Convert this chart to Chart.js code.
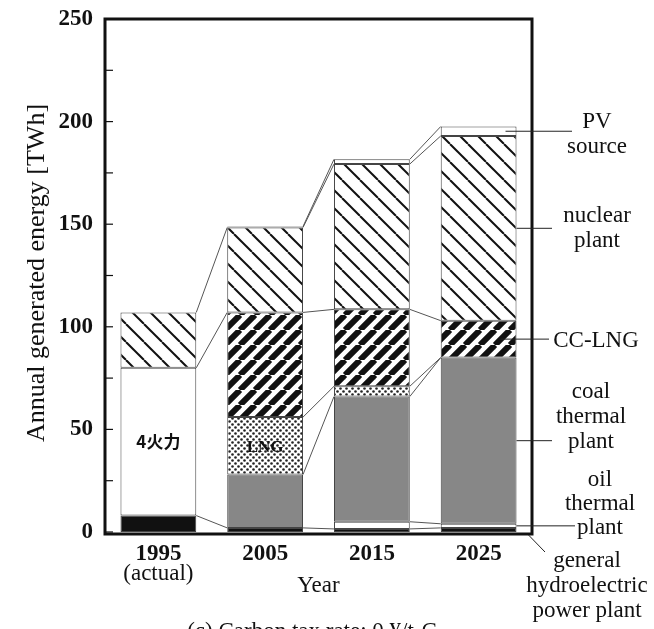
<!DOCTYPE html>
<html>
<head>
<meta charset="utf-8">
<script src="https://cdn.jsdelivr.net/npm/chart.js@4.4.1/dist/chart.umd.min.js"></script>
<style>
  html, body { margin: 0; padding: 0; background: #fff; }
</style>
</head>
<body>
<canvas id="chart" width="654" height="629"></canvas>
<script>
// data (TWh)
const years = ['1995', '2005', '2015', '2025'];
const hydro = [8, 2, 1.5, 2];
const oilThermal = [0, 0, 3.5, 2];
const coalThermal = [0, 26, 61, 81];
const lng = [0, 28, 5, 0];
const ccLng = [0, 51, 37.5, 18];
const thermal4 = [72, 0, 0, 0];
const nuclear = [27, 41.4, 70.8, 90];
const pvSource = [0, 0.5, 2.3, 4.6];
const yTicks = [0, 50, 100, 150, 200, 250];

const serif = '"Liberation Serif", "Times New Roman", serif';

// fill patterns
function hatch(size, dir, width, bg) {
  const c = document.createElement('canvas');
  c.width = size; c.height = size;
  const g = c.getContext('2d');
  g.fillStyle = bg; g.fillRect(0, 0, size, size);
  g.strokeStyle = '#111'; g.lineWidth = width;
  for (let k = -1; k <= 1; k++) {
    g.beginPath();
    if (dir === '\\') { g.moveTo(k * size, 0); g.lineTo(k * size + size, size); }
    else { g.moveTo(k * size, size); g.lineTo(k * size + size, 0); }
    g.stroke();
  }
  return g.createPattern(c, 'repeat');
}
function dots() {
  const c = document.createElement('canvas');
  c.width = 6; c.height = 6;
  const g = c.getContext('2d');
  g.fillStyle = '#fff'; g.fillRect(0, 0, 6, 6);
  g.fillStyle = '#222';
  g.beginPath(); g.arc(1.5, 1.5, 1.3, 0, Math.PI * 2); g.fill();
  g.beginPath(); g.arc(4.5, 4.5, 1.3, 0, Math.PI * 2); g.fill();
  return g.createPattern(c, 'repeat');
}

const ctx = document.getElementById('chart').getContext('2d');

const barStyle = {
  borderColor: '#444',
  borderWidth: 1,
  borderSkipped: false,
  barPercentage: 0.71,
  categoryPercentage: 1.0
};

const datasets = [
  { label: 'general hydroelectric power plant', data: hydro, backgroundColor: '#111' },
  { label: 'oil thermal plant', data: oilThermal, backgroundColor: '#fff' },
  { label: 'coal thermal plant', data: coalThermal, backgroundColor: '#878787' },
  { label: 'LNG', data: lng, backgroundColor: dots() },
  { label: 'CC-LNG', data: ccLng, backgroundColor: hatch(15, '/', 6, '#fff') },
  { label: '4火力', data: thermal4, backgroundColor: '#fff' },
  { label: 'nuclear plant', data: nuclear, backgroundColor: hatch(18, '\\', 2, '#fff') },
  { label: 'PV source', data: pvSource, backgroundColor: '#fff' }
].map(d => Object.assign({}, barStyle, d));

// connecting lines, frame, inner ticks
const framePlugin = {
  id: 'frame',
  afterDatasetsDraw(chart) {
    const { ctx, chartArea: a, scales: { y } } = chart;
    ctx.save();
    ctx.strokeStyle = '#555';
    ctx.lineWidth = 1;
    chart.data.datasets.forEach((ds, d) => {
      const bars = chart.getDatasetMeta(d).data;
      for (let i = 0; i < bars.length - 1; i++) {
        if (!(ds.data[i] > 0)) continue;
        const p = bars[i], q = bars[i + 1];
        ctx.beginPath();
        ctx.moveTo(p.x + p.width / 2, p.y);
        ctx.lineTo(q.x - q.width / 2, q.y);
        ctx.stroke();
      }
    });

    ctx.strokeStyle = '#111';
    ctx.lineWidth = 1.2;
    for (let v = 0; v <= 250; v += 25) {
      const yy = y.getPixelForValue(v);
      ctx.beginPath();
      ctx.moveTo(a.left, yy);
      ctx.lineTo(a.left + 8, yy);
      ctx.stroke();
    }

    ctx.lineWidth = 3;
    ctx.strokeRect(a.left, a.top, a.right - a.left, a.bottom - a.top + 2);
    ctx.restore();
  }
};

const textPlugin = {
  id: 'texts',
  afterDraw(chart) {
    const { ctx, chartArea: a, scales: { x } } = chart;
    const last = i => chart.getDatasetMeta(i).data[years.length - 1];
    const mid = el => (el.y + el.base) / 2;
    ctx.save();
    ctx.fillStyle = '#111';
    ctx.strokeStyle = '#222';
    ctx.lineWidth = 1;
    ctx.textAlign = 'center';
    ctx.textBaseline = 'middle';

    // labels inside bars
    const t4 = chart.getDatasetMeta(5).data[0];
    ctx.font = 'bold 17px "Noto Sans CJK JP", sans-serif';
    ctx.fillText('4火力', t4.x, mid(t4));
    const lg = chart.getDatasetMeta(3).data[1];
    ctx.font = 'bold 17px ' + serif;
    ctx.fillText('LNG', lg.x, mid(lg) + 2);

    // axis texts
    ctx.font = '23px ' + serif;
    ctx.fillText('(actual)', x.getPixelForValue(0), 574);
    ctx.fillText('Year', (a.left + a.right) / 2, 586);
    ctx.textBaseline = 'alphabetic';
    ctx.fillText('(c) Carbon tax rate: 0 ¥/t-C', 312, 638);
    ctx.textBaseline = 'middle';

    ctx.save();
    ctx.font = '26px ' + serif;
    ctx.translate(37, 273);
    ctx.rotate(-Math.PI / 2);
    ctx.fillText('Annual generated energy [TWh]', 0, 0);
    ctx.restore();

    // side labels with leader lines
    const side = [
      { d: 7, lines: ['PV', 'source'], x0: -11, x1: 572, cx: 597, dy: -9, gap: 25 },
      { d: 6, lines: ['nuclear', 'plant'], x0: 0, x1: 552, cx: 597, dy: -12, gap: 25 },
      { d: 4, lines: ['CC-LNG'], x0: -16, x1: 549, cx: 596, dy: 2, gap: 25 },
      { d: 2, lines: ['coal', 'thermal', 'plant'], x0: 0, x1: 552, cx: 591, dy: -49, gap: 25 },
      { d: 1, lines: ['oil', 'thermal', 'plant'], x0: 0, x1: 575, cx: 600, dy: -46, gap: 24 }
    ];
    side.forEach(s => {
      const el = last(s.d);
      const ly = mid(el);
      ctx.beginPath();
      ctx.moveTo(el.x + el.width / 2 + s.x0, ly);
      ctx.lineTo(s.x1, ly);
      ctx.stroke();
      s.lines.forEach((t, k) => ctx.fillText(t, s.cx, ly + s.dy + k * s.gap));
    });

    const h = last(0);
    ctx.beginPath();
    ctx.moveTo(h.x + h.width / 2 + 12, a.bottom + 3);
    ctx.lineTo(545, a.bottom + 20);
    ctx.stroke();
    ['general', 'hydroelectric', 'power plant'].forEach((t, k) => ctx.fillText(t, 587, 561 + k * 25));
    ctx.restore();
  }
};

new Chart(ctx, {
  type: 'bar',
  data: { labels: years, datasets },
  options: {
    responsive: false,
    animation: false,
    layout: { padding: { top: 19, right: 122, left: 0, bottom: 0 } },
    plugins: { legend: { display: false }, tooltip: { enabled: false } },
    scales: {
      x: {
        stacked: true,
        grid: { display: false, drawTicks: false },
        border: { display: false },
        ticks: { font: { family: serif, size: 23, weight: 'bold' }, color: '#111', padding: 8 },
        afterFit: s => { s.height = 97; s.paddingLeft = 0; s.paddingRight = 0; }
      },
      y: {
        stacked: true,
        min: 0,
        max: 250,
        afterBuildTicks: s => { s.ticks = yTicks.map(v => ({ value: v })); },
        grid: { display: false, drawTicks: false },
        border: { display: false },
        ticks: { font: { family: serif, size: 23, weight: 'bold' }, color: '#111', padding: 12 },
        afterFit: s => { s.width = 105; s.paddingTop = 0; s.paddingBottom = 0; }
      }
    }
  },
  plugins: [framePlugin, textPlugin]
});
</script>
</body>
</html>
